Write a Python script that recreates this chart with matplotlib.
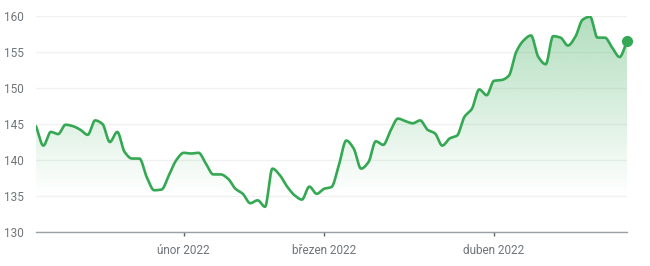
import matplotlib
matplotlib.use("Agg")
import matplotlib.pyplot as plt
import numpy as np
from matplotlib.path import Path
from matplotlib.patches import PathPatch

# denní uzavírací ceny (obchodní dny 3. 1. – 28. 4. 2022)
ceny = [
    144.7, 142.0, 143.9, 143.6, 144.9, 144.7, 144.2, 143.5, 145.5, 145.0,
    142.5, 143.9, 141.1, 140.2, 140.2, 137.6, 135.8, 135.9, 137.9, 140.0,
    141.0, 140.9, 141.0, 139.5, 138.0, 138.0, 137.4, 136.0, 135.3, 134.0,
    134.4, 133.5, 138.8, 137.9, 136.3, 135.1, 134.5, 136.3, 135.3, 136.0,
    136.25, 139.3, 142.7, 141.6, 138.8, 139.7, 142.6, 142.1, 144.1, 145.75,
    145.4, 145.1, 145.5, 144.2, 143.7, 142.0, 143.0, 143.4, 146.0, 147.1,
    149.8, 149.0, 151.0, 151.1, 151.7, 155.0, 156.6, 157.3, 154.3, 153.3,
    157.2, 157.0, 155.9, 157.1, 159.5, 159.9, 157.0, 157.0, 155.6, 154.3,
    156.5,
]
# index prvního obchodního dne v měsíci a popisky
tick_idx = [20, 39, 62]
tick_labels = ["únor 2022", "březen 2022", "duben 2022"]
y_ticks = [130, 135, 140, 145, 150, 155, 160]

GREEN = "#34a853"
TEXT = "#70757a"


def pchip(x, y, xs):
    # monotónní kubická interpolace (Fritsch-Carlson), jen kvůli hladké křivce
    h = np.diff(x)
    d = np.diff(y) / h
    m = np.zeros_like(y)
    m[0], m[-1] = d[0], d[-1]
    for k in range(1, len(y) - 1):
        if d[k - 1] * d[k] > 0:
            w1 = 2 * h[k] + h[k - 1]
            w2 = h[k] + 2 * h[k - 1]
            m[k] = (w1 + w2) / (w1 / d[k - 1] + w2 / d[k])
    idx = np.clip(np.searchsorted(x, xs) - 1, 0, len(x) - 2)
    t = (xs - x[idx]) / h[idx]
    h00 = 2 * t**3 - 3 * t**2 + 1
    h10 = t**3 - 2 * t**2 + t
    h01 = -2 * t**3 + 3 * t**2
    h11 = t**3 - t**2
    return h00 * y[idx] + h10 * h[idx] * m[idx] + h01 * y[idx + 1] + h11 * h[idx] * m[idx + 1]


def main():
    plt.rcParams["font.family"] = ["Roboto", "DejaVu Sans"]

    y = np.array(ceny, dtype=float)
    x = np.arange(len(y), dtype=float)
    xs = np.linspace(0, x[-1], 1200)
    ys = pchip(x, y, xs)

    fig = plt.figure(figsize=(6.5, 2.66), dpi=100)
    ax = fig.add_axes([36 / 650, 34 / 266, 591 / 650, 216 / 266])
    ax.set_xlim(0, x[-1])
    ax.set_ylim(130, 160)

    # gradientová výplň pod křivkou
    verts = np.vstack([np.column_stack([xs, ys]), [[xs[-1], 130], [xs[0], 130]]])
    clip = PathPatch(Path(verts), facecolor="none", edgecolor="none")
    ax.add_patch(clip)
    grad = np.linspace(0, 1, 256).reshape(-1, 1)
    alpha = np.clip((grad - 0.17) / 0.83, 0, 1) * 0.38
    rgba = np.zeros((256, 1, 4))
    rgba[..., 0], rgba[..., 1], rgba[..., 2] = 0x34 / 255, 0xa8 / 255, 0x53 / 255
    rgba[..., 3] = alpha
    im = ax.imshow(rgba, extent=[0, x[-1], 130, 160], origin="lower",
                   aspect="auto", zorder=1, interpolation="bilinear")
    im.set_clip_path(clip)

    ax.plot(xs, ys, color=GREEN, lw=1.9, zorder=3, solid_capstyle="round")
    ax.plot([x[-1]], [y[-1]], "o", color=GREEN, ms=7, zorder=4, clip_on=False)

    ax.set_yticks(y_ticks)
    ax.set_xticks(tick_idx)
    ax.set_xticklabels(tick_labels)
    ax.grid(axis="y", color="#f1f1f1", lw=1)
    ax.set_axisbelow(True)
    for s in ["left", "right", "top"]:
        ax.spines[s].set_visible(False)
    ax.spines["bottom"].set_color("#9aa0a6")
    ax.spines["bottom"].set_linewidth(1)
    ax.tick_params(axis="y", length=0, pad=9, labelsize=8.5, labelcolor=TEXT)
    ax.tick_params(axis="x", length=3, width=1, color="#5f6368", pad=6,
                   labelsize=8.5, labelcolor=TEXT)

    fig.savefig("out.png", dpi=100)


if __name__ == "__main__":
    main()
